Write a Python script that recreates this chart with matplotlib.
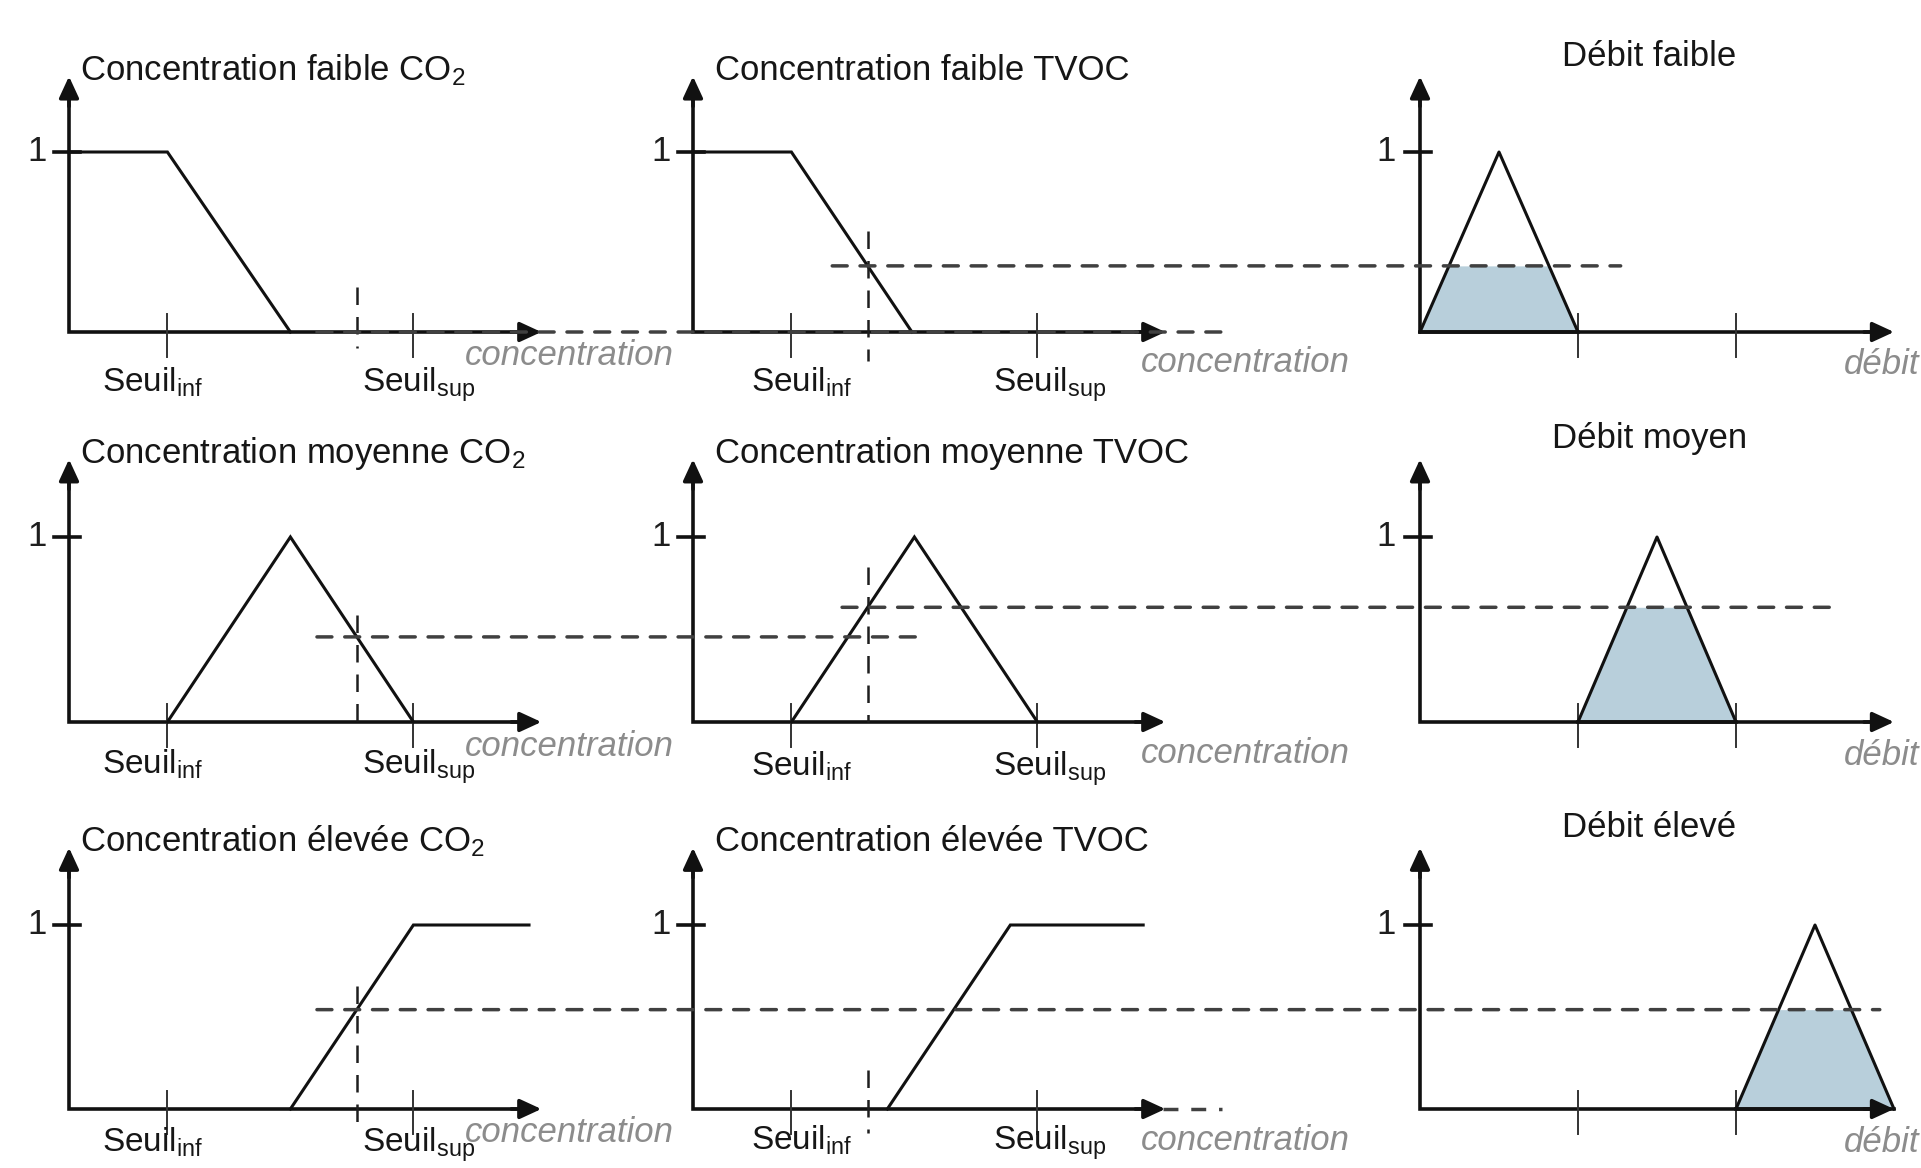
import numpy as np
import matplotlib
matplotlib.use("Agg")
import matplotlib.pyplot as plt
from matplotlib.patches import ConnectionPatch

plt.rcParams['font.family'] = ['Liberation Sans', 'DejaVu Sans']
plt.rcParams['mathtext.fontset'] = 'custom'
plt.rcParams['mathtext.rm'] = 'Liberation Sans'
plt.rcParams['mathtext.it'] = 'Liberation Sans:italic'

# ---------------------------------------------------------------- data
# concentration axis (arbitrary units)
seuil_inf = 2.0
seuil_sup = 7.0
conc_axis_end = 9.6
conc_ticks = [seuil_inf, seuil_sup]
conc_tick_labels = ['Seuil$_{\\mathrm{inf}}$', 'Seuil$_{\\mathrm{sup}}$']

# membership functions (breakpoints x, membership y)
co2_faible_x, co2_faible_y = [0.0, 2.0, 4.5], [1, 1, 0]
co2_moyenne_x, co2_moyenne_y = [2.0, 4.5, 7.0], [0, 1, 0]
co2_elevee_x, co2_elevee_y = [4.5, 7.0, 9.35], [0, 1, 1]
tvoc_faible_x, tvoc_faible_y = [0.0, 2.0, 4.45], [1, 1, 0]
tvoc_moyenne_x, tvoc_moyenne_y = [2.0, 4.5, 7.0], [0, 1, 0]
tvoc_elevee_x, tvoc_elevee_y = [3.95, 6.45, 9.15], [0, 1, 1]

# measured inputs
co2_value = 5.85
tvoc_value = 3.55

# output (débit) sets
debit_axis_end = 3.0
debit_ticks = [1.0, 2.0]
debit_faible = [0.0, 0.5, 1.0]
debit_moyen = [1.0, 1.5, 2.0]
debit_eleve = [2.0, 2.5, 3.0]
debit_peak_y = [0, 1, 0]

titles_co2 = ['Concentration faible CO$_{\\mathrm{2}}$',
              'Concentration moyenne CO$_{\\mathrm{2}}$',
              'Concentration élevée CO$_{\\mathrm{2}}$']
titles_tvoc = ['Concentration faible TVOC',
               'Concentration moyenne TVOC',
               'Concentration élevée TVOC']
titles_debit = ['Débit faible', 'Débit moyen', 'Débit élevé']

# ---------------------------------------------------------------- layout
W, H = 1921, 1168
fig = plt.figure(figsize=(W / 100, H / 100), dpi=100)
fig.patch.set_facecolor('white')

col_origin = [69, 693, 1420]
row_origin = [332, 722, 1109]
row_unit_y = [180, 185, 184]
unit_conc = 49.2
unit_debit = 158.0
YLIM = (-0.45, 1.62)

INK = '#111111'
DASH = '#404040'
GREY = '#8c8c8c'
FILL = '#b8cfdb'
TXT = 25
AXIS_LW = 2.6
CURVE_LW = 2.2
H_DASH = (0, (4.3, 3.7))
V_DASH = (0, (7.0, 4.8))


def panel_axes(ox, oy, ux, uy, xlim, ylim):
    left = ox + xlim[0] * ux
    right = ox + xlim[1] * ux
    top = oy - ylim[1] * uy
    bottom = oy - ylim[0] * uy
    ax = fig.add_axes([left / W, 1 - bottom / H, (right - left) / W, (bottom - top) / H])
    ax.set_xlim(xlim)
    ax.set_ylim(ylim)
    ax.axis('off')
    ax.px = (ux, uy)
    return ax


def draw_frame(ax, x_end, ticks, one_label_gap):
    ux, uy = ax.px
    ytop = 1.42
    ax.plot([0, 0, x_end - 10 / ux], [ytop - 10 / uy, 0, 0], color=INK, lw=AXIS_LW,
            solid_joinstyle='miter', solid_capstyle='butt', zorder=3)
    style = '-|>,head_length=0.65,head_width=0.3'
    ax.annotate('', xy=(0, ytop), xytext=(0, ytop - 30 / uy),
                arrowprops=dict(arrowstyle=style, lw=AXIS_LW, color=INK, shrinkA=0,
                                shrinkB=0, mutation_scale=20), zorder=3)
    ax.annotate('', xy=(x_end, 0), xytext=(x_end - 30 / ux, 0),
                arrowprops=dict(arrowstyle=style, lw=AXIS_LW, color=INK, shrinkA=0,
                                shrinkB=0, mutation_scale=20), zorder=3)
    # "1" tick on the membership axis
    ax.plot([-15 / ux, 11 / ux], [1, 1], color=INK, lw=AXIS_LW, zorder=3)
    ax.text(-one_label_gap / ux, 1, '1', ha='right', va='center', fontsize=TXT,
            color='#1e1e1e')
    for t in ticks:
        ax.plot([t, t], [18 / uy, -25 / uy], color='#333333', lw=1.4, zorder=3)


def conc_panel(ax, xs, ys, value, vtop, vbot, title, title_dx, axis_label_xy,
               label_shift, label_base):
    draw_frame(ax, conc_axis_end, conc_ticks, 22)
    ax.plot(xs, ys, color=INK, lw=CURVE_LW, zorder=4, solid_joinstyle='miter')
    ax.plot([value, value], [vtop, vbot], color='#1e1e1e', lw=1.8,
            linestyle=V_DASH, zorder=5, clip_on=False)
    ax.text(title_dx, 1.40, title, ha='left', va='baseline', fontsize=TXT,
            color='#161616')
    ax.text(axis_label_xy[0], axis_label_xy[1], 'concentration', ha='left',
            va='center', fontsize=TXT, style='italic', color=GREY)
    for t, lab, dx in zip(conc_ticks, conc_tick_labels, label_shift):
        ax.text(t + dx, label_base, lab, ha='center', va='baseline',
                fontsize=24, color='#161616')


def membership(x, xs, ys):
    return float(np.interp(x, xs, ys))


def debit_panel(ax, tri, level, title):
    draw_frame(ax, debit_axis_end, debit_ticks, 24)
    xx = np.linspace(tri[0], tri[2], 400)
    mu = np.interp(xx, tri, debit_peak_y)
    ax.fill_between(xx, 0, np.minimum(mu, level), color=FILL, lw=0, zorder=2)
    ax.plot(tri, debit_peak_y, color=INK, lw=CURVE_LW, zorder=4)
    ax.plot([tri[0], tri[2]], [0, 0], color=INK, lw=AXIS_LW, zorder=4)
    ax.text(1.45, 1.48, title, ha='center', va='baseline', fontsize=TXT,
            color='#161616')
    ax.text(2.68, -0.18, 'débit', ha='left', va='center', fontsize=TXT,
            style='italic', color=GREY, clip_on=False)


def dashed_link(axA, xA, axB, xB, level):
    con = ConnectionPatch(xyA=(xA, level), coordsA=axA.transData,
                          xyB=(xB, level), coordsB=axB.transData,
                          color=DASH, lw=2.5, linestyle=H_DASH, zorder=6)
    fig.add_artist(con)


co2_sets = [(co2_faible_x, co2_faible_y), (co2_moyenne_x, co2_moyenne_y),
            (co2_elevee_x, co2_elevee_y)]
tvoc_sets = [(tvoc_faible_x, tvoc_faible_y), (tvoc_moyenne_x, tvoc_moyenne_y),
             (tvoc_elevee_x, tvoc_elevee_y)]
debit_sets = [debit_faible, debit_moyen, debit_eleve]

co2_mu = [membership(co2_value, xs, ys) for xs, ys in co2_sets]
tvoc_mu = [membership(tvoc_value, xs, ys) for xs, ys in tvoc_sets]
debit_level = [max(a, b) for a, b in zip(co2_mu, tvoc_mu)]

# vertical marker extents per row (membership units)
co2_marker = [(0.25, -0.09), (0.58, -0.06), (0.67, -0.11)]
tvoc_marker = [(0.56, -0.16), (0.84, 0.0), (0.21, -0.13)]
label_base = [(-0.33, -0.33), (-0.28, -0.29), (-0.23, -0.22)]

for r in range(3):
    oy, uy = row_origin[r], row_unit_y[r]
    ax1 = panel_axes(col_origin[0], oy, unit_conc, uy, (-1.3, 11.0), YLIM)
    ax2 = panel_axes(col_origin[1], oy, unit_conc, uy, (-1.3, 11.0), YLIM)
    ax3 = panel_axes(col_origin[2], oy, unit_debit, uy, (-0.3, 3.17), YLIM)

    conc_panel(ax1, *co2_sets[r], co2_value, *co2_marker[r], titles_co2[r], 0.22,
               (8.05, -0.13), (-0.3, 0.1), label_base[r][0])
    conc_panel(ax2, *tvoc_sets[r], tvoc_value, *tvoc_marker[r], titles_tvoc[r], 0.45,
               (9.1, -0.17), (0.2, 0.25), label_base[r][1])
    debit_panel(ax3, debit_sets[r], debit_level[r], titles_debit[r])

    # projection of the activation levels towards the output sets
    if r == 0:
        dashed_link(ax1, 5.04, ax2, 10.73, co2_mu[0])
        dashed_link(ax2, 2.83, ax3, 1.27, tvoc_mu[0])
    elif r == 1:
        dashed_link(ax1, 5.04, ax2, 4.72, co2_mu[1])
        dashed_link(ax2, 3.03, ax3, 2.6, tvoc_mu[1])
    else:
        dashed_link(ax1, 5.04, ax3, 2.91, co2_mu[2])
        ax2.plot([9.55, 10.75], [tvoc_mu[2]] * 2, color=DASH, lw=2.5,
                 linestyle=H_DASH, clip_on=False, zorder=6)

fig.savefig('out.png', dpi=100, facecolor='white')
